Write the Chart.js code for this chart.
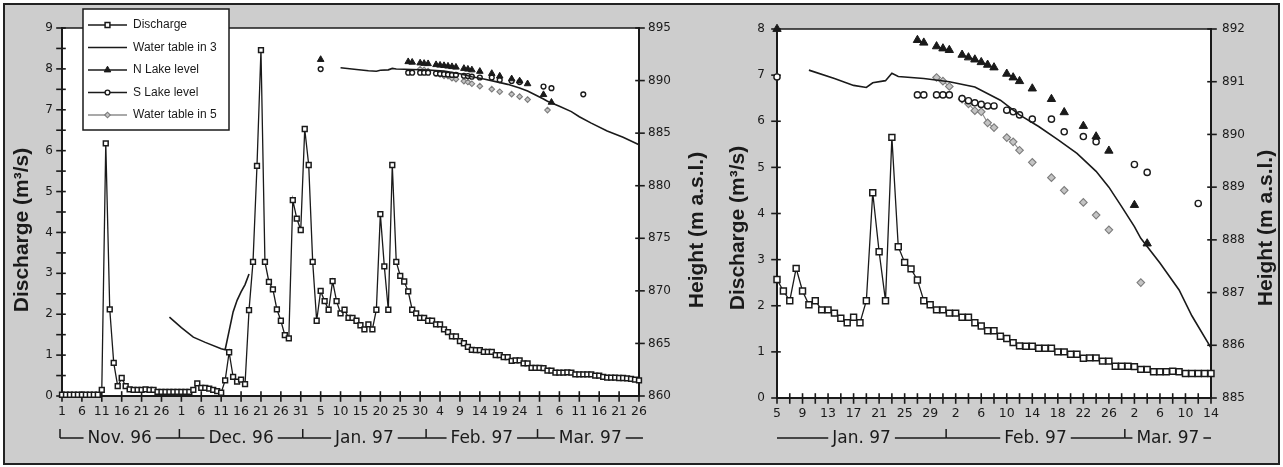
<!DOCTYPE html>
<html><head><meta charset="utf-8">
<script src="https://cdn.jsdelivr.net/npm/chart.js@4.4.1/dist/chart.umd.min.js"></script>
<style>
html,body{margin:0;padding:0;width:1283px;height:467px;overflow:hidden;background:#fff}
#frame{position:absolute;left:3px;top:3px;width:1273px;height:458px;border:2px solid #222;background:#cdcdcd}
#c1{position:absolute;left:0;top:0;width:720px;height:467px}
#c2{position:absolute;left:720px;top:0;width:563px;height:467px}
</style></head><body>
<div id="frame"></div>
<canvas id="c1" width="720" height="467"></canvas>
<canvas id="c2" width="563" height="467"></canvas>
<script>
// ---- DATA (day index 0 = 1 Nov 1996) ----
const monthNames = ['Nov. 96', 'Dec. 96', 'Jan. 97', 'Feb. 97', 'Mar. 97'];
const monthFirstDay = [0, 30, 61, 92, 120];
const monthLengths = [30, 31, 31, 28, 31];

// Daily discharge (m3/s), 1 Nov 1996 .. 26 Mar 1997
const discharge = [
 0.03,0.03,0.03,0.03,0.03,0.03,0.03,0.03,0.03,0.03,
 0.15,6.18,2.12,0.81,0.24,0.44,0.24,0.16,0.15,0.15,
 0.15,0.16,0.15,0.15,0.10,0.10,0.10,0.10,0.10,0.10,
 0.10,0.10,0.10,0.15,0.31,0.20,0.20,0.18,0.15,0.12,
 0.08,0.38,1.07,0.47,0.35,0.40,0.29,2.10,3.28,5.63,
 8.46,3.28,2.79,2.61,2.12,1.84,1.49,1.41,4.79,4.34,4.06,
 6.53,5.65,3.28,1.84,2.57,2.32,2.11,2.81,2.32,2.02,
 2.11,1.91,1.91,1.84,1.73,1.63,1.75,1.63,2.11,4.45,
 3.17,2.11,5.65,3.28,2.94,2.80,2.56,2.11,2.02,1.91,1.91,
 1.84,1.84,1.75,1.75,1.63,1.56,1.46,1.46,1.34,1.29,
 1.20,1.13,1.12,1.12,1.08,1.08,1.08,1.00,1.00,0.95,
 0.95,0.86,0.87,0.87,0.80,0.80,0.69,0.69,
 0.69,0.68,0.62,0.62,0.57,0.57,0.57,0.58,0.57,0.53,
 0.53,0.53,0.53,0.53,0.50,0.50,0.47,0.45,0.45,0.45,
 0.44,0.44,0.43,0.42,0.40,0.38
];

// Water table in 3 (m a.s.l.)
const wt3Days = [27,30,33,36,40,41,42,43,44,45,46,47,
  70,74,77,79,80,82,83,84,88,92,96,100,103,106,109,112,115,117,119,121,122,125,128,130,133,137,141,145];
const wt3Height = [867.5,866.5,865.6,865.1,864.5,864.4,866.2,868.0,869.1,869.9,870.6,871.6,
  891.22,891.06,890.93,890.89,890.98,891.02,891.16,891.10,891.06,891.00,890.90,890.65,890.37,890.15,889.90,889.64,889.30,889.00,888.63,888.25,888.03,887.56,887.05,886.56,885.95,885.20,884.60,883.90];

// N Lake level
const nLakeDays = [65,87,88,90,91,92,94,95,96,97,98,99,101,102,103,105,108,110,113,115,117,121,123];
const nLakeHeight = [892.00,891.79,891.74,891.67,891.63,891.60,891.51,891.46,891.42,891.37,891.32,891.27,891.15,891.08,891.01,890.87,890.67,890.42,890.16,889.96,889.69,888.66,887.93];

// S Lake level
const sLakeDays = [65,87,88,90,91,92,94,95,96,97,98,99,101,102,103,105,108,110,113,115,121,123,131];
const sLakeHeight = [891.09,890.75,890.75,890.75,890.75,890.75,890.68,890.64,890.60,890.57,890.54,890.54,890.46,890.43,890.37,890.29,890.29,890.05,889.96,889.86,889.43,889.28,888.69];

// Water table in 5
const wt5Days = [90,91,92,94,95,96,97,98,99,101,102,103,105,108,110,113,115,117,122];
const wt5Height = [891.08,891.01,890.91,890.67,890.58,890.45,890.43,890.22,890.13,889.94,889.86,889.70,889.47,889.18,888.94,888.71,888.47,888.19,887.19];

const seriesLabels = ['Discharge', 'Water table in 3', 'N Lake level', 'S Lake level', 'Water table in 5'];

// ---- PANEL SETTINGS ----
const PANELS = [
  {canvas:'c1', xMin:0, xMax:145, xStep:5, labelStep:5, qMax:9, qStep:0.5, hMin:860, hMax:895, hStep:5,
   padTop:28, yLW:62, yRW:81, xH:71, tickPadL:9, tickPadR:9, titleLX:22, titleRX:697, titleY:230,
   legend:true, firstTick:true, lastExtra:1, ms:{sq:3.4, tri:3.8, circ:2.4, dia:2.8}},
  {canvas:'c2', xMin:65, xMax:133, xStep:2, labelStep:4, qMax:8, qStep:1, hMin:885, hMax:892, hStep:1,
   padTop:29, yLW:57, yRW:72, xH:69, tickPadL:12, tickPadR:11, titleLX:18, titleRX:546, titleY:228,
   legend:false, firstTick:false, lastExtra:0, ms:{sq:4.2, tri:4.8, circ:3.1, dia:3.8}}
];

const INK = '#1a1a1a';
const DIA_FILL = '#c4c4c4', DIA_EDGE = '#7c7c7c', DIA_LINE = '#8c8c8c';

function dayOfMonth(i){ return new Date(1996, 10, 1 + i).getDate(); }
function range(a,b,s){ const r=[]; for(let v=a; v<=b+1e-9; v+=s) r.push(Math.round(v*1000)/1000); return r; }
function pts(days, vals, P){ return days.map((d,i)=>({x:d,y:vals[i]})).filter(p=>p.x>=P.xMin && p.x<=P.xMax); }
function gapSeg(color, maxGap){ return {borderColor: c => (c.p1.parsed.x - c.p0.parsed.x > maxGap ? 'rgba(0,0,0,0)' : color)}; }

function drawMarker(ctx, style, x, y, r, fill, edge, lw){
  ctx.save(); ctx.beginPath(); ctx.lineWidth = lw; ctx.fillStyle = fill; ctx.strokeStyle = edge;
  if (style==='rect'){ const s=r*Math.SQRT1_2; ctx.rect(x-s,y-s,2*s,2*s); }
  else if (style==='triangle'){ for(let k=0;k<3;k++){ const a=k*2*Math.PI/3; const px=x+Math.sin(a)*r, py=y-Math.cos(a)*r; k?ctx.lineTo(px,py):ctx.moveTo(px,py);} ctx.closePath(); }
  else if (style==='circle'){ ctx.arc(x,y,r,0,2*Math.PI); }
  else if (style==='rectRot'){ ctx.moveTo(x-r,y); ctx.lineTo(x,y-r); ctx.lineTo(x+r,y); ctx.lineTo(x,y+r); ctx.closePath(); }
  ctx.fill(); ctx.stroke(); ctx.restore();
}

const decorPlugin = {
  id:'decor',
  beforeDraw(chart){
    const a = chart.chartArea, ctx = chart.ctx;
    ctx.save(); ctx.fillStyle = '#fff'; ctx.fillRect(a.left, a.top, a.right-a.left, a.bottom-a.top); ctx.restore();
  },
  beforeDatasetsDraw(chart){
    const a = chart.chartArea, ctx = chart.ctx, P = chart.options.plugins.decor.P;
    ctx.save(); ctx.strokeStyle = INK; ctx.lineCap = 'square';
    ctx.lineWidth = 1.3; ctx.beginPath(); ctx.moveTo(a.left,a.top); ctx.lineTo(a.right,a.top); ctx.stroke();
    ctx.lineWidth = 2; ctx.beginPath(); ctx.moveTo(a.right,a.top); ctx.lineTo(a.right,a.bottom); ctx.lineTo(a.left,a.bottom); ctx.lineTo(a.left,a.top); ctx.stroke();
    ctx.lineWidth = 1.6;
    const xs = chart.scales.x, yq = chart.scales.yQ, yh = chart.scales.yH;
    xs.ticks.forEach(t => { const px = xs.getPixelForValue(t.value); ctx.beginPath(); ctx.moveTo(px, a.bottom-4); ctx.lineTo(px, a.bottom+5); ctx.stroke(); });
    yq.ticks.forEach(t => { const py = yq.getPixelForValue(t.value); ctx.beginPath(); ctx.moveTo(a.left-5, py); ctx.lineTo(a.left+3, py); ctx.stroke(); });
    yh.ticks.forEach(t => { const py = yh.getPixelForValue(t.value); ctx.beginPath(); ctx.moveTo(a.right-3, py); ctx.lineTo(a.right+5, py); ctx.stroke(); });
    ctx.restore();
  },
  afterDraw(chart){
    const a = chart.chartArea, ctx = chart.ctx, P = chart.options.plugins.decor.P, xs = chart.scales.x;
    // axis titles (rotated, reading upward)
    ctx.save(); ctx.fillStyle = INK; ctx.font = 'bold 21px "Liberation Sans", Arial, sans-serif';
    ctx.textAlign = 'center'; ctx.textBaseline = 'middle';
    [[P.titleLX, 'Discharge (m³/s)'], [P.titleRX, 'Height (m a.s.l.)']].forEach(([tx, txt]) => {
      ctx.save(); ctx.translate(tx, P.titleY); ctx.rotate(-Math.PI/2); ctx.fillText(txt, 0, 0); ctx.restore();
    });
    ctx.restore();
    // month brackets
    const y = 438;
    ctx.save(); ctx.strokeStyle = INK; ctx.fillStyle = INK; ctx.lineWidth = 1.5;
    ctx.font = '17px "DejaVu Sans", sans-serif'; ctx.textAlign = 'center'; ctx.textBaseline = 'middle';
    monthNames.forEach((name, i) => {
      let s = monthFirstDay[i] - 0.5, e = monthFirstDay[i] + monthLengths[i] - 0.5;
      if (e <= xs.min || s >= xs.max) return;
      let tick = true;
      if (s < xs.min && !P.firstTick) { s = xs.min; tick = false; }
      if (e > xs.max) e = xs.max + P.lastExtra;
      const x0 = xs.getPixelForValue(s), x1 = xs.getPixelForValue(e), cx = (x0 + x1)/2;
      const tw = ctx.measureText(name).width;
      ctx.beginPath(); ctx.moveTo(x0, y); ctx.lineTo(cx - tw/2 - 4, y); ctx.moveTo(cx + tw/2 + 4, y); ctx.lineTo(x1, y);
      if (tick) { ctx.moveTo(x0, y); ctx.lineTo(x0, y - 9); }
      ctx.stroke();
      ctx.fillText(name, cx, y + 1);
    });
    ctx.restore();
    // legend
    if (P.legend) {
      const bx = a.left + 21, by = 9, bw = 146, bh = 121;
      ctx.save(); ctx.fillStyle = '#fff'; ctx.fillRect(bx, by, bw, bh);
      ctx.strokeStyle = INK; ctx.lineWidth = 1.5; ctx.strokeRect(bx, by, bw, bh);
      ctx.font = '12px "Liberation Sans", Arial, sans-serif'; ctx.textBaseline = 'middle'; ctx.textAlign = 'left';
      chart.data.datasets.forEach((ds, i) => {
        const ry = by + 16 + i * 22.5, lx0 = bx + 5, lx1 = bx + 44, mx = (lx0 + lx1)/2;
        ctx.strokeStyle = ds.legendLine; ctx.lineWidth = 1.5;
        ctx.beginPath(); ctx.moveTo(lx0, ry); ctx.lineTo(lx1, ry); ctx.stroke();
        if (ds.pointRadius > 0) drawMarker(ctx, ds.pointStyle, mx, ry, ds.pointRadius, ds.pointBackgroundColor, ds.pointBorderColor, ds.pointBorderWidth);
        ctx.fillStyle = INK; ctx.fillText(ds.label, bx + 50, ry);
      });
      ctx.restore();
    }
  }
};

function makePanel(P){
  const ms = P.ms;
  const datasets = [
    {label: seriesLabels[0], yAxisID:'yQ', data: pts(discharge.map((v,i)=>i), discharge, P),
     borderColor: INK, borderWidth: 1.3, pointStyle:'rect', pointRadius: ms.sq,
     pointBackgroundColor:'#fff', pointBorderColor: INK, pointBorderWidth: 1.5, legendLine: INK},
    {label: seriesLabels[1], yAxisID:'yH', data: pts(wt3Days, wt3Height, P),
     borderColor: INK, borderWidth: 1.6, pointRadius: 0, segment: gapSeg(INK, 10),
     pointBackgroundColor: INK, pointBorderColor: INK, pointBorderWidth: 1, legendLine: INK},
    {label: seriesLabels[2], yAxisID:'yH', data: pts(nLakeDays, nLakeHeight, P),
     borderColor: INK, borderWidth: 1.2, pointStyle:'triangle', pointRadius: ms.tri,
     pointBackgroundColor: INK, pointBorderColor: INK, pointBorderWidth: 1, segment: gapSeg(INK, 1), legendLine: INK},
    {label: seriesLabels[3], yAxisID:'yH', data: pts(sLakeDays, sLakeHeight, P),
     borderColor: INK, borderWidth: 1.2, pointStyle:'circle', pointRadius: ms.circ,
     pointBackgroundColor:'#fff', pointBorderColor: INK, pointBorderWidth: 1.4, segment: gapSeg(INK, 1), legendLine: INK},
    {label: seriesLabels[4], yAxisID:'yH', data: pts(wt5Days, wt5Height, P),
     borderColor: DIA_LINE, borderWidth: 1.1, pointStyle:'rectRot', pointRadius: ms.dia,
     pointBackgroundColor: DIA_FILL, pointBorderColor: DIA_EDGE, pointBorderWidth: 1.1, segment: gapSeg(DIA_LINE, 1), legendLine: DIA_LINE}
  ];
  datasets.forEach(d => { d.clip = false; d.tension = 0; d.fill = false; d.spanGaps = false; d.pointHoverRadius = d.pointRadius; });
  const tickFont = {family:'"DejaVu Sans", sans-serif', size:12};
  new Chart(document.getElementById(P.canvas), {
    type:'line',
    data:{datasets},
    options:{
      responsive:false, animation:false, events:[],
      layout:{padding:{top:P.padTop, left:0, right:0, bottom:0}},
      plugins:{legend:{display:false}, tooltip:{enabled:false}, decor:{P}},
      scales:{
        x:{type:'linear', min:P.xMin, max:P.xMax, offset:false,
           afterBuildTicks: s => { s.ticks = range(P.xMin, P.xMax, P.xStep).map(v=>({value:v})); },
           afterFit: s => { s.height = P.xH; },
           grid:{display:false, drawTicks:false}, border:{display:false},
           ticks:{autoSkip:false, maxRotation:0, minRotation:0, padding:8, color:INK, font:{...tickFont, size:12.5},
                  callback: v => ((Math.round(v - P.xMin) % P.labelStep) === 0 ? String(dayOfMonth(v)) : '')}},
        yQ:{type:'linear', position:'left', min:0, max:P.qMax,
           afterBuildTicks: s => { s.ticks = range(0, P.qMax, P.qStep).map(v=>({value:v})); },
           afterFit: s => { s.width = P.yLW; },
           grid:{display:false, drawTicks:false}, border:{display:false},
           ticks:{autoSkip:false, padding:P.tickPadL, color:INK, font:tickFont,
                  callback: v => (Number.isInteger(v) ? String(v) : '')}},
        yH:{type:'linear', position:'right', min:P.hMin, max:P.hMax,
           afterBuildTicks: s => { s.ticks = range(P.hMin, P.hMax, P.hStep).map(v=>({value:v})); },
           afterFit: s => { s.width = P.yRW; },
           grid:{display:false, drawTicks:false}, border:{display:false},
           ticks:{autoSkip:false, padding:P.tickPadR, color:INK, font:tickFont, callback: v => String(v)}}
      }
    },
    plugins:[decorPlugin]
  });
}
PANELS.forEach(makePanel);
</script>
</body></html>
